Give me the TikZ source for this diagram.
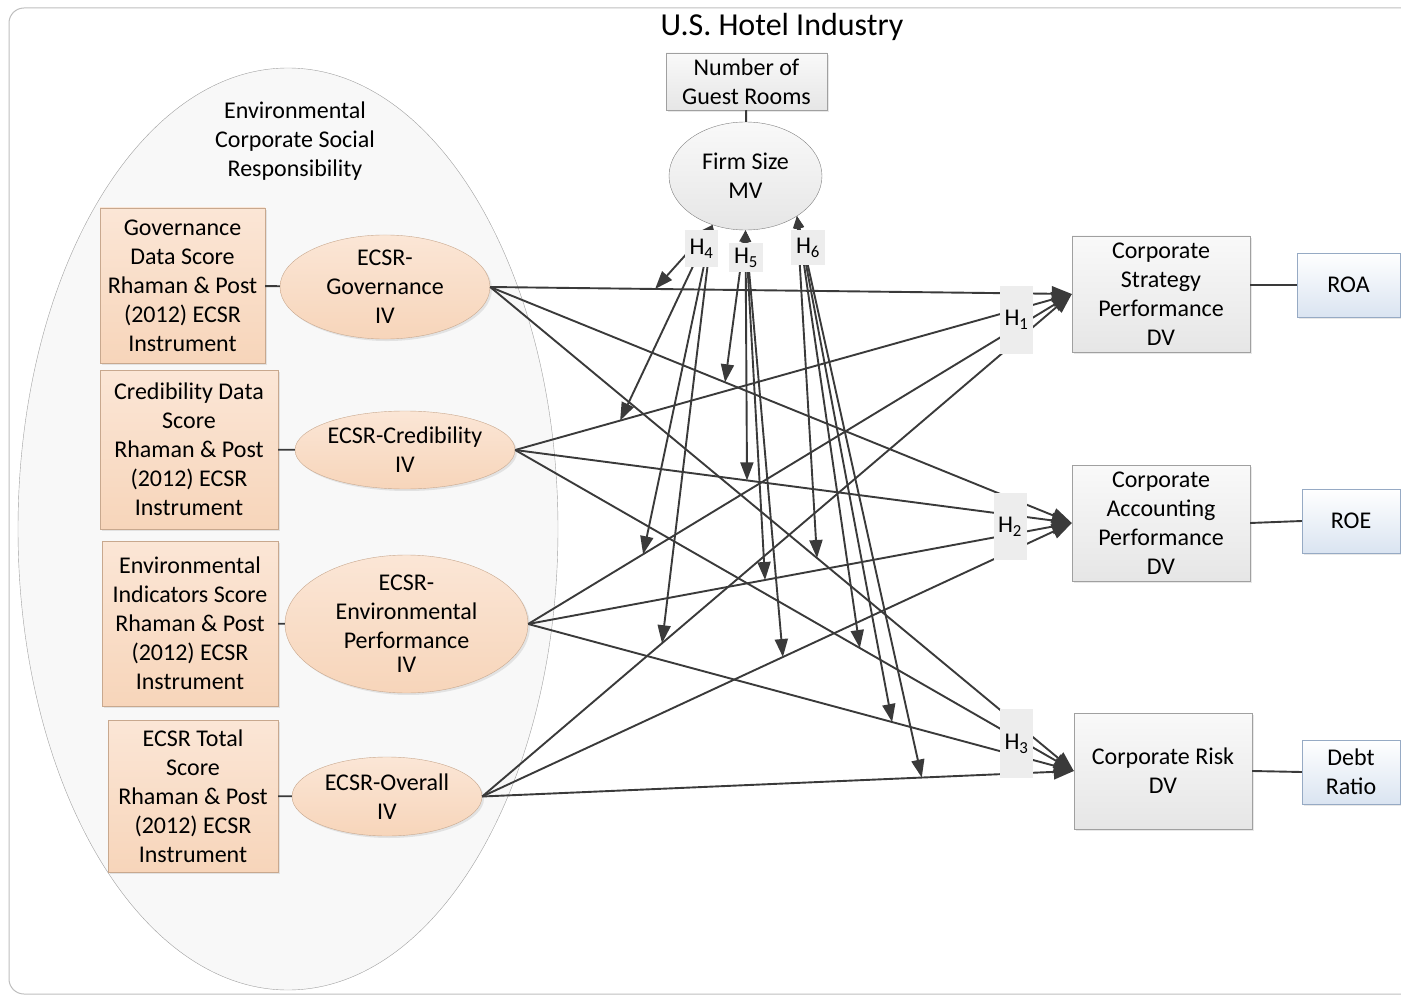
\documentclass[tikz,border=0pt]{standalone}
\usepackage{fontspec}
\setmainfont{Carlito}
\usetikzlibrary{arrows.meta,shapes.geometric,shadows}

\definecolor{linegray}{RGB}{58,58,58}
\definecolor{peach}{RGB}{247,213,186}
\definecolor{peachlight}{RGB}{251,230,214}
\definecolor{peachdraw}{RGB}{200,168,142}
\definecolor{boxgray}{RGB}{230,230,230}
\definecolor{boxgraylight}{RGB}{249,249,249}
\definecolor{graydraw}{RGB}{160,160,160}
\definecolor{paleblue}{RGB}{218,228,241}
\definecolor{bluedraw}{RGB}{150,170,196}
\definecolor{hgray}{RGB}{237,237,237}
\definecolor{csrfill}{RGB}{248,248,248}
\definecolor{framegray}{RGB}{190,190,190}

\begin{document}
\begin{tikzpicture}[x=1pt, y=-1pt,
    txt/.style={align=center, font=\fontsize{24}{29}\selectfont, inner sep=0pt},
    softshadow/.style={drop shadow={opacity=0.18, shadow xshift=2pt, shadow yshift=-2pt}},
    databox/.style={txt, draw=peachdraw, top color=peachlight, bottom color=peach, softshadow},
    ivellipse/.style={txt, ellipse, draw=peachdraw, top color=peachlight, bottom color=peach, softshadow},
    dvbox/.style={txt, draw=graydraw, top color=boxgraylight, bottom color=boxgray, minimum width=178pt, minimum height=116pt, softshadow},
    measbox/.style={txt, draw=bluedraw, top color=white, bottom color=paleblue, minimum height=64pt, softshadow},
    hbox/.style={txt, fill=hgray, minimum width=33pt},
    link/.style={draw=linegray, line width=1.9pt},
    conn/.style={link, -{Triangle[length=20pt,width=15pt]}},
    modconn/.style={link, {Triangle[length=12pt,width=9pt]}-{Triangle[length=18pt,width=13pt]}}
]
    \useasboundingbox (0,0) rectangle (1401,995);
    \clip (0,0) rectangle (1401,995);

    % frame and title
    \draw[framegray, line width=1pt, rounded corners=15pt] (9,8) rectangle (1460,994);
    \node[txt, font=\fontsize{32}{38}\selectfont] (title) at (782,27) {U.S. Hotel Industry};

    % ECSR construct
    \node[ellipse, draw=graydraw, fill=csrfill, minimum width=540pt, minimum height=922pt] (ecsr) at (288,529) {};
    \node[txt] (ecsrlabel) at (295,141) {Environmental\\Corporate Social\\Responsibility};

    \node[databox, minimum width=165pt, minimum height=155pt] (gdata) at (182.5,285.5)
        {Governance\\Data Score\\Rhaman \& Post\\(2012) ECSR\\Instrument};
    \node[databox, minimum width=178pt, minimum height=159pt] (cdata) at (189,449.5)
        {Credibility Data\\Score\\Rhaman \& Post\\(2012) ECSR\\Instrument};
    \node[databox, minimum width=176pt, minimum height=165pt] (edata) at (190,623.5)
        {Environmental\\Indicators Score\\Rhaman \& Post\\(2012) ECSR\\Instrument};
    \node[databox, minimum width=170pt, minimum height=152pt] (tdata) at (193,796)
        {ECSR Total\\Score\\Rhaman \& Post\\(2012) ECSR\\Instrument};

    \node[ivellipse, minimum width=210pt, minimum height=86pt] (gov) at (385,287) {ECSR-\\Governance\\IV};
    \node[ivellipse, minimum width=220pt, minimum height=78pt] (cred) at (405,450) {ECSR-Credibility\\IV};
    \node[ivellipse, minimum width=243pt, minimum height=104pt] (env) at (406.5,624)
        {ECSR-\\Environmental\\Performance\\[-5pt]IV};
    \node[ivellipse, minimum width=190pt, minimum height=79pt] (over) at (387,796.5) {ECSR-Overall\\IV};

    \draw[link] (gdata) -- (gov);
    \draw[link] (cdata) -- (cred);
    \draw[link] (edata) -- (env);
    \draw[link] (tdata) -- (over);

    % moderator
    \node[txt, draw=graydraw, top color=boxgraylight, bottom color=boxgray, minimum width=161pt, minimum height=57pt, softshadow] (rooms) at (746.5,81.5)
        {Number of\\Guest Rooms};
    \node[txt, ellipse, draw=gray, top color=boxgraylight, bottom color=boxgray, minimum width=153pt, minimum height=108pt] (fs) at (745.5,176)
        {Firm Size\\MV};
    \draw[link] (rooms) -- (fs);

    % outcomes
    \node[dvbox] (dv1) at (1161,294) {Corporate\\Strategy\\Performance\\DV};
    \node[dvbox] (dv2) at (1161,523) {Corporate\\Accounting\\Performance\\DV};
    \node[dvbox] (dv3) at (1163,771) {Corporate Risk\\DV};

    \node[measbox, minimum width=103pt] (roa) at (1348.5,285) {ROA};
    \node[measbox, minimum width=98pt] (roe) at (1351,521) {ROE};
    \node[measbox, minimum width=98pt] (debt) at (1351,772) {Debt\\Ratio};

    \draw[link] (dv1.east |- roa.west) -- (roa.west);
    \draw[link] (dv2.east) -- (roe.west);
    \draw[link] (dv3.east) -- (debt.west);

    % direct paths IV -> DV
    \draw[conn] (gov.east) -- (dv1.west) coordinate[pos=0.2835] (g1);
    \draw[conn] (cred.east) -- (dv1.west) coordinate[pos=0.1885] (c1);
    \draw[conn] (env.east) -- (dv1.west) coordinate[pos=0.2114] (e1);
    \draw[conn] (over.east) -- (dv1.west) coordinate[pos=0.305] (o1);

    \draw[conn] (gov.east) -- (dv2.west) coordinate[pos=0.4038] (g2);
    \draw[conn] (cred.east) -- (dv2.west) coordinate[pos=0.4165] (c2);
    \draw[conn] (env.east) -- (dv2.west) coordinate[pos=0.4357] (e2);
    \draw[conn] (over.east) -- (dv2.west) coordinate[pos=0.510] (o2);

    \draw[conn] (gov.east) -- (dv3.west) coordinate[pos=0.560] (g3);
    \draw[conn] (cred.east) -- (dv3.west) coordinate[pos=0.617] (c3);
    \draw[conn] (env.east) -- (dv3.west) coordinate[pos=0.667] (e3);
    \draw[conn] (over.east) -- (dv3.west) coordinate[pos=0.743] (o3);

    % moderating paths
    \draw[modconn] (fs.236) -- (g1);
    \draw[modconn] (fs.236) -- (c1);
    \draw[modconn] (fs.236) -- (e1);
    \draw[modconn] (fs.236) -- (o1);

    \draw[modconn] (fs.270) -- (g2);
    \draw[modconn] (fs.270) -- (c2);
    \draw[modconn] (fs.270) -- (e2);
    \draw[modconn] (fs.270) -- (o2);

    \draw[modconn] (fs.322) -- (g3);
    \draw[modconn] (fs.322) -- (c3);
    \draw[modconn] (fs.322) -- (e3);
    \draw[modconn] (fs.322) -- (o3);

    % hypothesis labels
    \node[hbox, minimum height=68pt] (h1) at (1016.5,320) {H\textsubscript{1}};
    \node[hbox, minimum height=67pt] (h2) at (1010,526.5) {H\textsubscript{2}};
    \node[hbox, minimum height=69pt] (h3) at (1016.5,743.5) {H\textsubscript{3}};
    \node[hbox, minimum height=37pt] (h4) at (701.5,248.5) {H\textsubscript{4}};
    \node[hbox, minimum width=34pt, minimum height=29pt] (h5) at (746,257.5) {H\textsubscript{5}};
    \node[hbox, minimum width=34pt, minimum height=35pt] (h6) at (808,247.5) {H\textsubscript{6}};
\end{tikzpicture}
\end{document}
